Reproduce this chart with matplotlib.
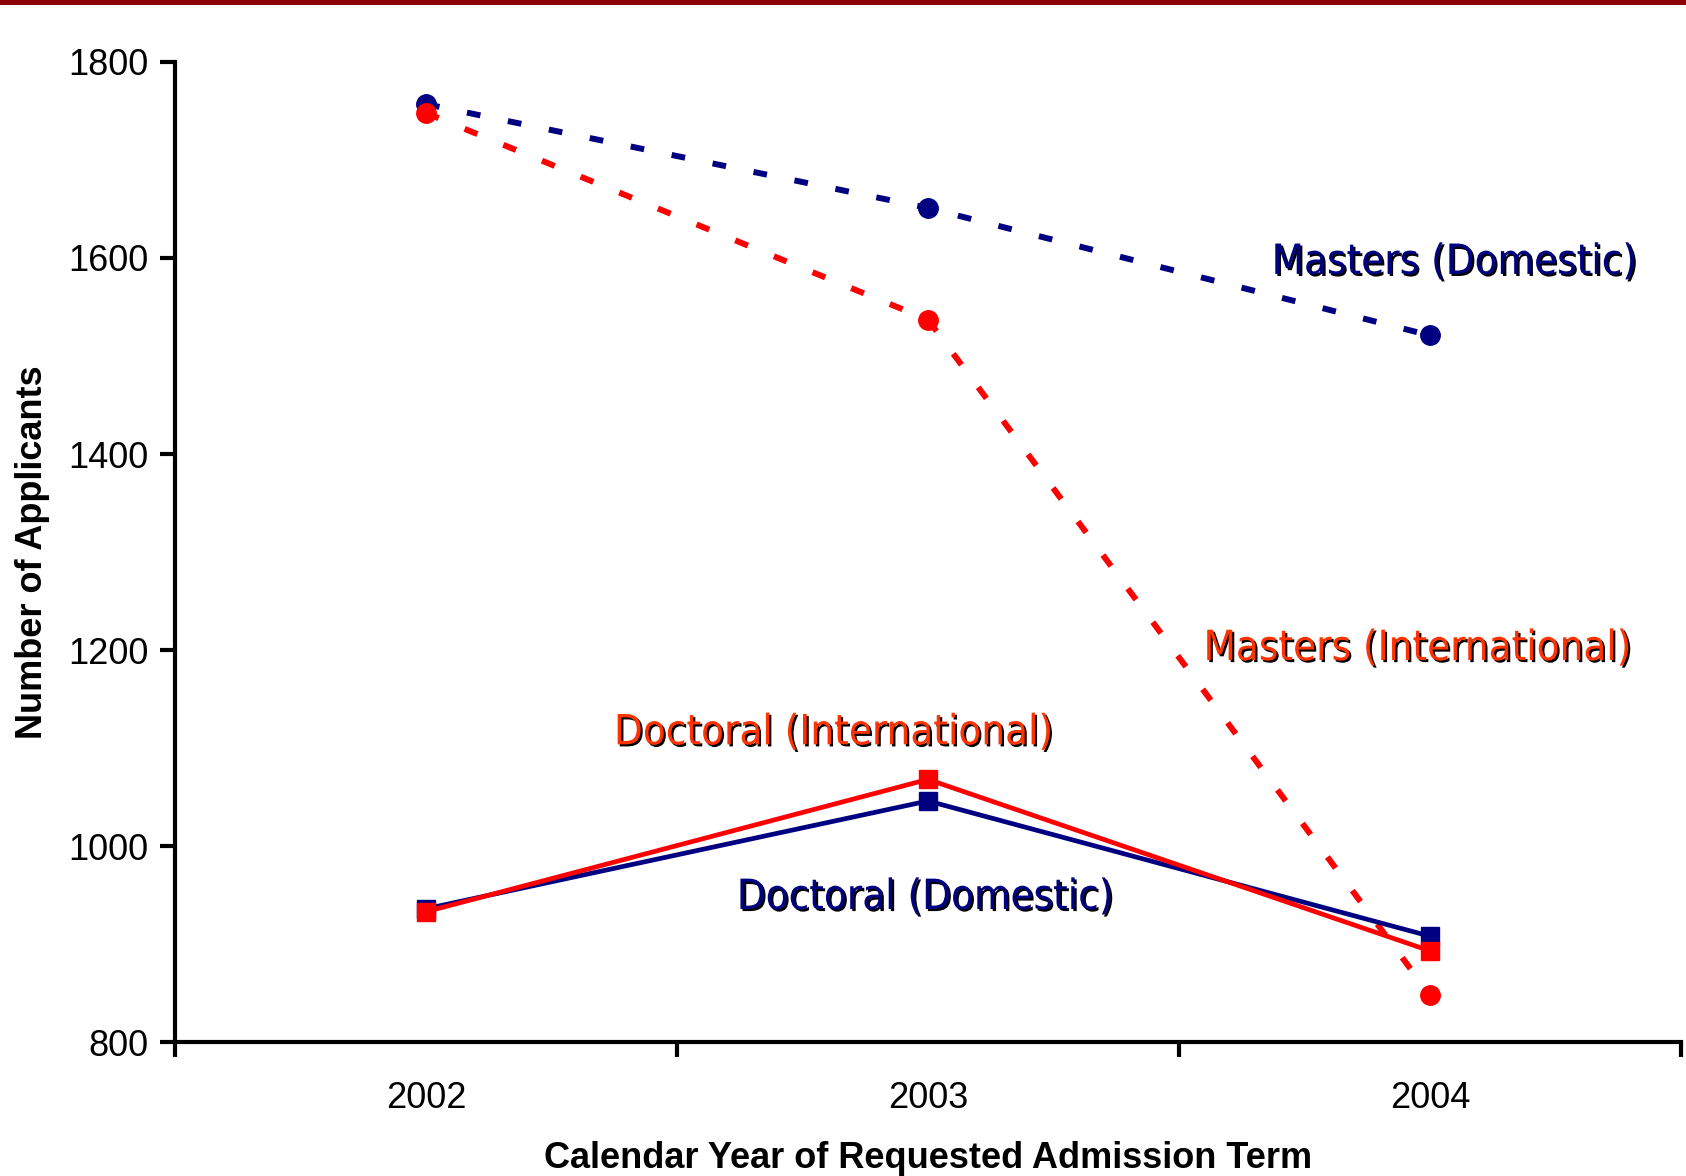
import numpy as np
import matplotlib
matplotlib.use('Agg')
import matplotlib.pyplot as plt
import matplotlib.patches as mpatches
import matplotlib.patheffects as pe

plt.rcParams['font.family'] = ['Liberation Sans', 'DejaVu Sans']

years = ['2002', '2003', '2004']
masters_domestic = [1757, 1651, 1521]
masters_international = [1748, 1537, 848]
doctoral_domestic = [936, 1046, 908]
doctoral_international = [933, 1068, 893]

navy = '#000080'
red = '#ff0000'
label_red = '#ff3300'

fig = plt.figure(figsize=(16.86, 11.76), dpi=100)
ax = fig.add_axes([0.1038, 0.1139, 0.8932, 0.8334])

# dark red strip across the top of the slide
fig.patches.append(mpatches.Rectangle((0, 1 - 5 / 1176), 1, 5 / 1176, transform=fig.transFigure,
                                      facecolor='#8b0000', edgecolor='none'))

x = np.arange(1, len(years) + 1)
dots = (0, (2.3, 4.7))
ax.plot(x, masters_domestic, color=navy, lw=4.3, linestyle=dots, marker='o', ms=14, zorder=3)
ax.plot(x, masters_international, color=red, lw=4.3, linestyle=dots, marker='o', ms=14, zorder=3)
ax.plot(x, doctoral_domestic, color=navy, lw=3.4, marker='s', ms=13, zorder=3)
ax.plot(x, doctoral_international, color=red, lw=3.4, marker='s', ms=13, zorder=4)

shadow = [pe.SimplePatchShadow(offset=(1.5, -1.5), shadow_rgbFace='black', alpha=1.0), pe.Normal()]
lab_kw = dict(fontsize=30, family=['DejaVu Sans'], fontstretch='condensed',
              ha='center', va='center', path_effects=shadow)
ax.text(3.048, 1596, 'Masters (Domestic)', color=navy, **lab_kw)
ax.text(2.974, 1202, 'Masters (International)', color=label_red, **lab_kw)
ax.text(1.811, 1116, 'Doctoral (International)', color=label_red, **lab_kw)
ax.text(1.994, 948, 'Doctoral (Domestic)', color=navy, **lab_kw)

ax.set_xlim(0.5, 3.5)
ax.set_ylim(800, 1800)
ax.set_yticks(np.arange(800, 1801, 200))
ax.set_xticks(x)
ax.set_xticklabels(years)
ax.set_xticks([0.5, 1.5, 2.5, 3.5], minor=True)
ax.tick_params(axis='x', which='major', length=0, pad=28, labelsize=26)
ax.tick_params(axis='x', which='minor', length=11, width=3, direction='out')
ax.tick_params(axis='y', length=11, width=3, direction='out', pad=8, labelsize=26)

for s in ['top', 'right']:
    ax.spines[s].set_visible(False)
for s in ['left', 'bottom']:
    ax.spines[s].set_linewidth(3)

ax.set_ylabel('Number of Applicants', fontsize=26, fontweight='bold')
ax.set_xlabel('Calendar Year of Requested Admission Term', fontsize=26, fontweight='bold', labelpad=18)
ax.yaxis.set_label_coords(-0.083, 0.5)

fig.savefig('out.png', dpi=100)
